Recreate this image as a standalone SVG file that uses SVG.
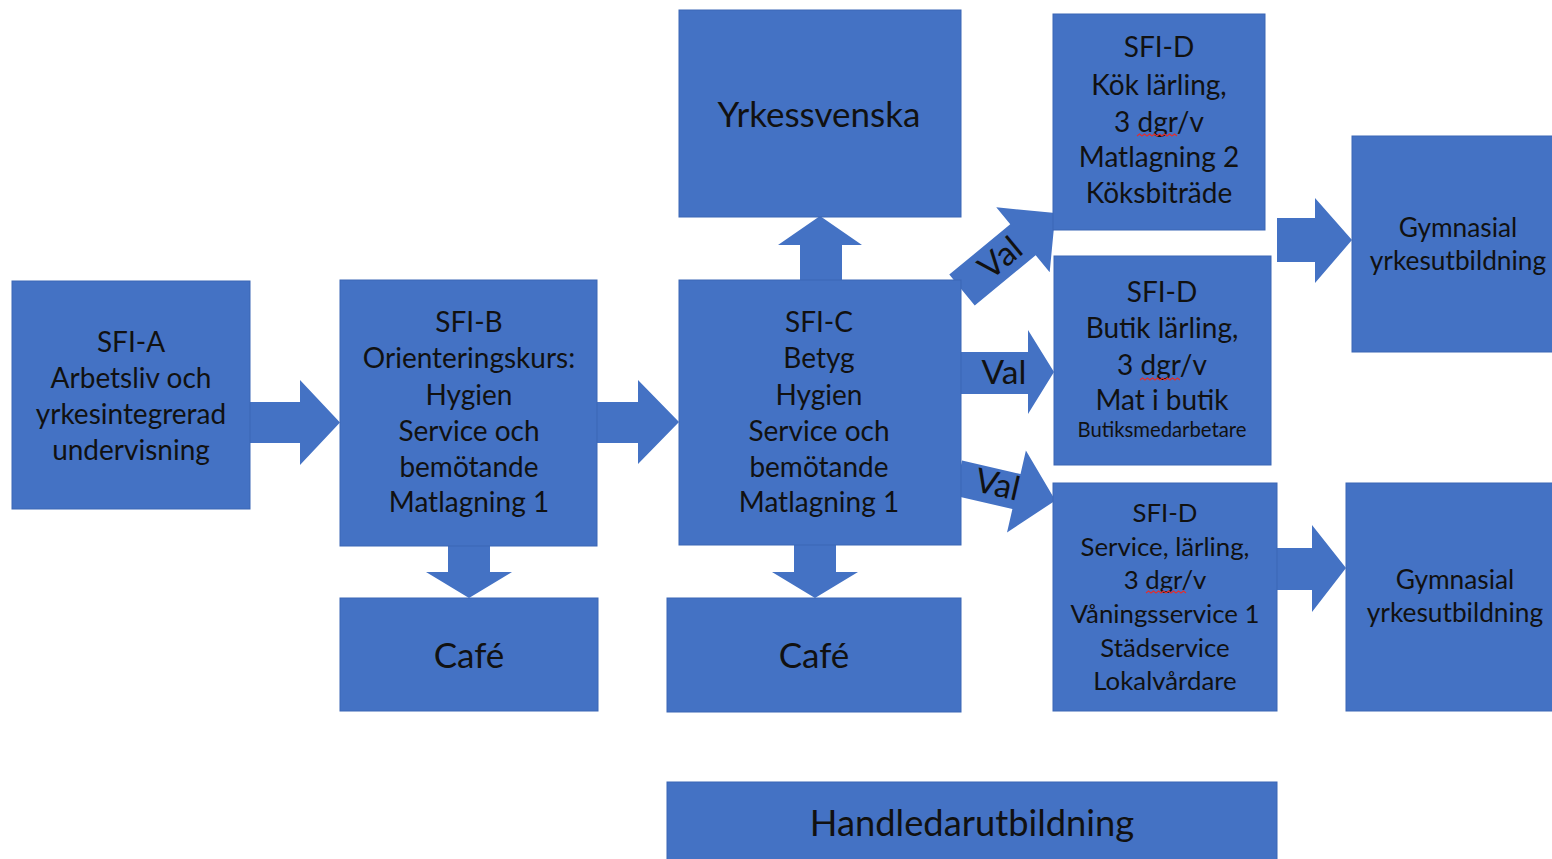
<svg xmlns="http://www.w3.org/2000/svg" width="1552" height="859" viewBox="0 0 1552 859">
<style>
.box{fill:#4472C4;stroke:#3B66B5;stroke-width:1}
.arr{fill:#4472C4;stroke:none}
text{font-family:Lato,"Liberation Sans",sans-serif;fill:#111;text-anchor:middle}
.t28{font-size:28px}
.t26{font-size:26px}
.t25{font-size:25.8px}
.gy{font-size:26.3px}
.big{font-size:35px}
.hl{font-size:36.3px}
.val{font-size:33.5px}
.sm{font-size:20.3px}
.sq{fill:none;stroke:#E03030;stroke-width:1.2}
</style>
<rect width="1552" height="859" fill="#ffffff"/>
<g id="connectors">
  <path class="arr" d="M250,402 H300 V380 L340,422.5 L300,465 V443 H250 Z"/>
  <path class="arr" d="M597,402 H638 V380 L679,422 L638,464 V443 H597 Z"/>
  <path class="arr" d="M800,281 V245 H778 L820,216 L862,245 H842 V281 Z"/>
  <path class="arr" d="M448,545 V572 H426 L469,598 L512,572 H490 V545 Z"/>
  <path class="arr" d="M794,544 V572 H772 L815,598 L858,572 H836 V544 Z"/>
  <g transform="translate(962,290) rotate(-39.5)">
    <path class="arr" d="M0,-20 H79 V-42 L121,0 L79,42 V20 H0 Z"/>
    <text class="val" x="50" y="11">Val</text>
  </g>
  <path class="arr" d="M960,352 H1028 V330 L1054,372 L1028,414 V394 H960 Z"/>
  <text class="val" x="1004" y="384">Val</text>
  <g transform="translate(958,478) rotate(13)">
    <path class="arr" d="M0,-18 H60 V-42 L100,0 L60,42 V18 H0 Z"/>
    <text class="val" x="40" y="9">Val</text>
  </g>
  <path class="arr" d="M1277,218 H1315 V198 L1352,240 L1315,283 V262 H1277 Z"/>
  <path class="arr" d="M1277,548 H1312 V525 L1346,568 L1312,612 V590 H1277 Z"/>
</g>
<g id="sfi-a">
  <rect class="box" x="12" y="281" width="238" height="228"/>
  <text class="t28" x="131" y="352">SFI-A</text>
  <text class="t28" x="131" y="388">Arbetsliv och</text>
  <text class="t28" x="131" y="424">yrkesintegrerad</text>
  <text class="t28" x="131" y="460">undervisning</text>
</g>
<g id="sfi-b">
  <rect class="box" x="340" y="280" width="257" height="266"/>
  <text class="t28" x="469" y="332">SFI-B</text>
  <text class="t28" x="469" y="368">Orienteringskurs:</text>
  <text class="t28" x="469" y="405">Hygien</text>
  <text class="t28" x="469" y="441">Service och</text>
  <text class="t28" x="469" y="477">bemötande</text>
  <text class="t28" x="469" y="512">Matlagning 1</text>
</g>
<g id="sfi-c">
  <rect class="box" x="679" y="280" width="282" height="265"/>
  <text class="t28" x="819" y="332">SFI-C</text>
  <text class="t28" x="819" y="368">Betyg</text>
  <text class="t28" x="819" y="405">Hygien</text>
  <text class="t28" x="819" y="441">Service och</text>
  <text class="t28" x="819" y="477">bemötande</text>
  <text class="t28" x="819" y="512">Matlagning 1</text>
</g>
<g id="yrkessvenska">
  <rect class="box" x="679" y="10" width="282" height="207"/>
  <text class="big" x="819" y="127">Yrkessvenska</text>
</g>
<g id="cafe-1">
  <rect class="box" x="340" y="598" width="258" height="113"/>
  <text class="big" x="469" y="668">Café</text>
</g>
<g id="cafe-2">
  <rect class="box" x="667" y="598" width="294" height="114"/>
  <text class="big" x="814" y="668">Café</text>
</g>
<g id="sfi-d-kok">
  <rect class="box" x="1053" y="14" width="212" height="216"/>
  <text class="t28" x="1159" y="57">SFI-D</text>
  <text class="t28" x="1159" y="95">Kök lärling,</text>
  <text class="t28" x="1159" y="132">3 dgr/v</text>
  <path class="sq" d="M1137,136 l2.5,-2 l2.5,2 l2.5,-2 l2.5,2 l2.5,-2 l2.5,2 l2.5,-2 l2.5,2 l2.5,-2 l2.5,2 l2.5,-2 l2.5,2 l2.5,-2 l2.5,2 l2.5,-2 l2.5,2"/>
  <text class="t28" x="1159" y="167">Matlagning 2</text>
  <text class="t28" x="1159" y="203">Köksbiträde</text>
</g>
<g id="sfi-d-butik">
  <rect class="box" x="1054" y="256" width="217" height="209"/>
  <text class="t28" x="1162" y="302">SFI-D</text>
  <text class="t28" x="1162" y="338">Butik lärling,</text>
  <text class="t28" x="1162" y="375">3 dgr/v</text>
  <path class="sq" d="M1140,380 l2.5,-2 l2.5,2 l2.5,-2 l2.5,2 l2.5,-2 l2.5,2 l2.5,-2 l2.5,2 l2.5,-2 l2.5,2 l2.5,-2 l2.5,2 l2.5,-2 l2.5,2 l2.5,-2 l2.5,2"/>
  <text class="t28" x="1162" y="410">Mat i butik</text>
  <text class="sm" x="1162" y="437">Butiksmedarbetare</text>
</g>
<g id="sfi-d-service">
  <rect class="box" x="1053" y="483" width="224" height="228"/>
  <text class="t25" x="1165" y="522">SFI-D</text>
  <text class="t25" x="1165" y="556">Service, lärling,</text>
  <text class="t25" x="1165" y="589">3 dgr/v</text>
  <path class="sq" d="M1146,593 l2.5,-2 l2.5,2 l2.5,-2 l2.5,2 l2.5,-2 l2.5,2 l2.5,-2 l2.5,2 l2.5,-2 l2.5,2 l2.5,-2 l2.5,2 l2.5,-2 l2.5,2 l2.5,-2 l2.5,2"/>
  <text class="t25" x="1165" y="623">Våningsservice 1</text>
  <text class="t25" x="1165" y="657">Städservice</text>
  <text class="t25" x="1165" y="690">Lokalvårdare</text>
</g>
<g id="gymnasial-1">
  <rect class="box" x="1352" y="136" width="210" height="216"/>
  <text class="gy" x="1458" y="237">Gymnasial</text>
  <text class="gy" x="1458" y="270">yrkesutbildning</text>
</g>
<g id="gymnasial-2">
  <rect class="box" x="1346" y="483" width="216" height="228"/>
  <text class="gy" x="1455" y="589">Gymnasial</text>
  <text class="gy" x="1455" y="622">yrkesutbildning</text>
</g>
<g id="handledarutbildning">
  <rect class="box" x="667" y="782" width="610" height="87"/>
  <text class="hl" x="972" y="836">Handledarutbildning</text>
</g>
</svg>
